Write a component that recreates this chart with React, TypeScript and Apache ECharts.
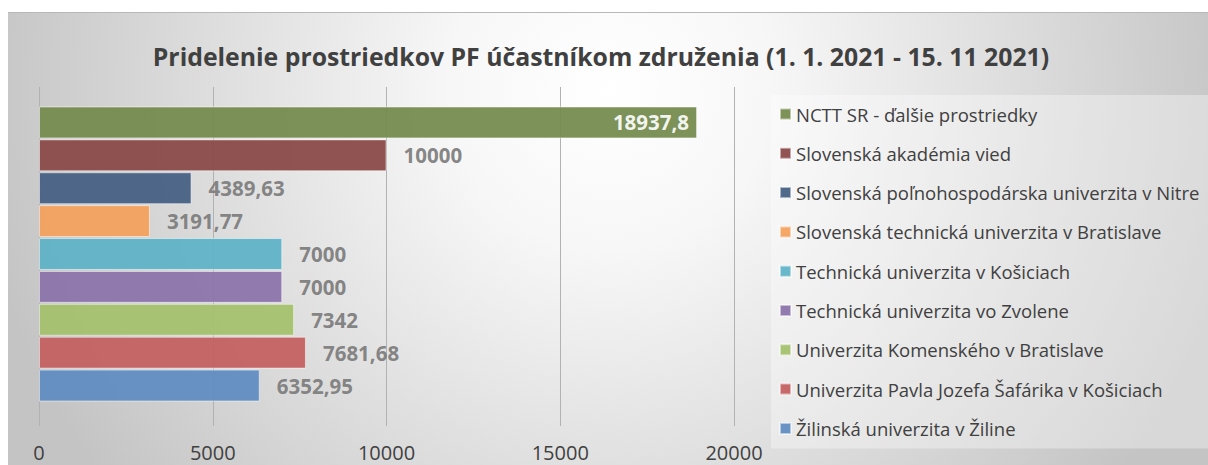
import React, { useEffect, useRef } from "react";
import * as echarts from "echarts";

const TITLE = "Pridelenie prostriedkov PF účastníkom združenia (1. 1. 2021 - 15. 11 2021)";

const names = [
  "NCTT SR - ďalšie prostriedky",
  "Slovenská akadémia vied",
  "Slovenská poľnohospodárska univerzita v Nitre",
  "Slovenská technická univerzita v Bratislave",
  "Technická univerzita v Košiciach",
  "Technická univerzita vo Zvolene",
  "Univerzita Komenského v Bratislave",
  "Univerzita Pavla Jozefa Šafárika v Košiciach",
  "Žilinská univerzita v Žiline",
];

const values = [18937.8, 10000, 4389.63, 3191.77, 7000, 7000, 7342, 7681.68, 6352.95];

const colors = [
  "#738a4b",
  "#8a4646",
  "#445e82",
  "#f3a05a",
  "#5db1c7",
  "#8b72a9",
  "#a3c16a",
  "#c45f5e",
  "#5f8bc2",
];

const axisMin = 0;
const axisMax = 20000;
const axisInterval = 5000;

const FONT = "'Open Sans', 'Noto Sans', sans-serif";

export default function App() {
  const ref = useRef<HTMLDivElement>(null);

  useEffect(() => {
    if (!ref.current) return;
    const chart = echarts.init(ref.current, null, { renderer: "svg" });

    const series = names.map((name, i) => ({
      name,
      type: "bar",
      stack: "total",
      xAxisIndex: 0,
      yAxisIndex: 0,
      barCategoryGap: "3%",
      data: values.map((v, j) => (j === i ? v : "-")),
      itemStyle: {
        color: colors[i],
        opacity: 0.93,
        borderColor: "rgba(255,255,255,0.55)",
        borderWidth: 1,
      },
      label: {
        show: true,
        position: i === 0 ? "insideRight" : "right",
        distance: i === 0 ? 8 : 17,
        color: i === 0 ? "#ffffff" : "#7b7b7b",
        fontFamily: FONT,
        fontWeight: "bold",
        fontSize: 20.5,
        formatter: (p: any) => String(p.value).replace(".", ","),
      },
    }));

    chart.setOption({
      animation: false,
      backgroundColor: "#ffffff",
      textStyle: { fontFamily: FONT },
      graphic: {
        elements: [
          {
            type: "rect",
            z: -100,
            silent: true,
            shape: { x: 8, y: 12, width: 1200, height: 453 },
            style: {
              fill: {
                type: "radial",
                x: 610,
                y: 90,
                r: 640,
                global: true,
                colorStops: [
                  { offset: 0, color: "#ffffff" },
                  { offset: 0.25, color: "#f7f7f7" },
                  { offset: 1, color: "#c4c4c4" },
                ],
              },
            },
          },
          {
            type: "line",
            z: -99,
            silent: true,
            shape: { x1: 8, y1: 12.5, x2: 1208, y2: 12.5 },
            style: { stroke: "#b8b8b8", lineWidth: 1 },
          },
        ],
      },
      title: {
        text: TITLE,
        left: 596,
        textAlign: "center",
        top: 38,
        textStyle: {
          fontFamily: FONT,
          fontSize: 24.8,
          fontWeight: "bold",
          color: "#404040",
        },
      },
      legend: {
        orient: "vertical",
        left: 771,
        top: 95,
        padding: [9, 10, 10, 8],
        backgroundColor: "rgba(255,255,255,0.35)",
        itemWidth: 11,
        itemHeight: 11,
        itemGap: 19.3,
        icon: "rect",
        data: names,
        textStyle: {
          fontFamily: FONT,
          fontSize: 18.5,
          color: "#404040",
          lineHeight: 20,
        },
      },
      grid: [
        { left: 39, right: 474, top: 106, bottom: 63, containLabel: false },
        { left: 39, right: 474, top: 87, bottom: 39, containLabel: false },
      ],
      xAxis: [
        {
          type: "value",
          gridIndex: 0,
          min: axisMin,
          max: axisMax,
          interval: axisInterval,
          show: false,
        },
        {
          type: "value",
          gridIndex: 1,
          min: axisMin,
          max: axisMax,
          interval: axisInterval,
          axisLine: { show: false },
          axisTick: { show: false },
          splitLine: { show: true, lineStyle: { color: "#b2b2b2", width: 1 } },
          axisLabel: {
            fontFamily: FONT,
            fontSize: 20,
            color: "#404040",
            margin: 16,
            formatter: (v: number) => String(v),
          },
        },
      ],
      yAxis: [
        {
          type: "category",
          gridIndex: 0,
          data: names,
          inverse: true,
          show: false,
        },
        {
          type: "value",
          gridIndex: 1,
          min: 0,
          max: 1,
          show: false,
        },
      ],
      series,
    });

    return () => chart.dispose();
  }, []);

  return (
    <div
      ref={ref}
      style={{ position: "fixed", left: 0, top: 0, width: 1208, height: 465 }}
    />
  );
}
